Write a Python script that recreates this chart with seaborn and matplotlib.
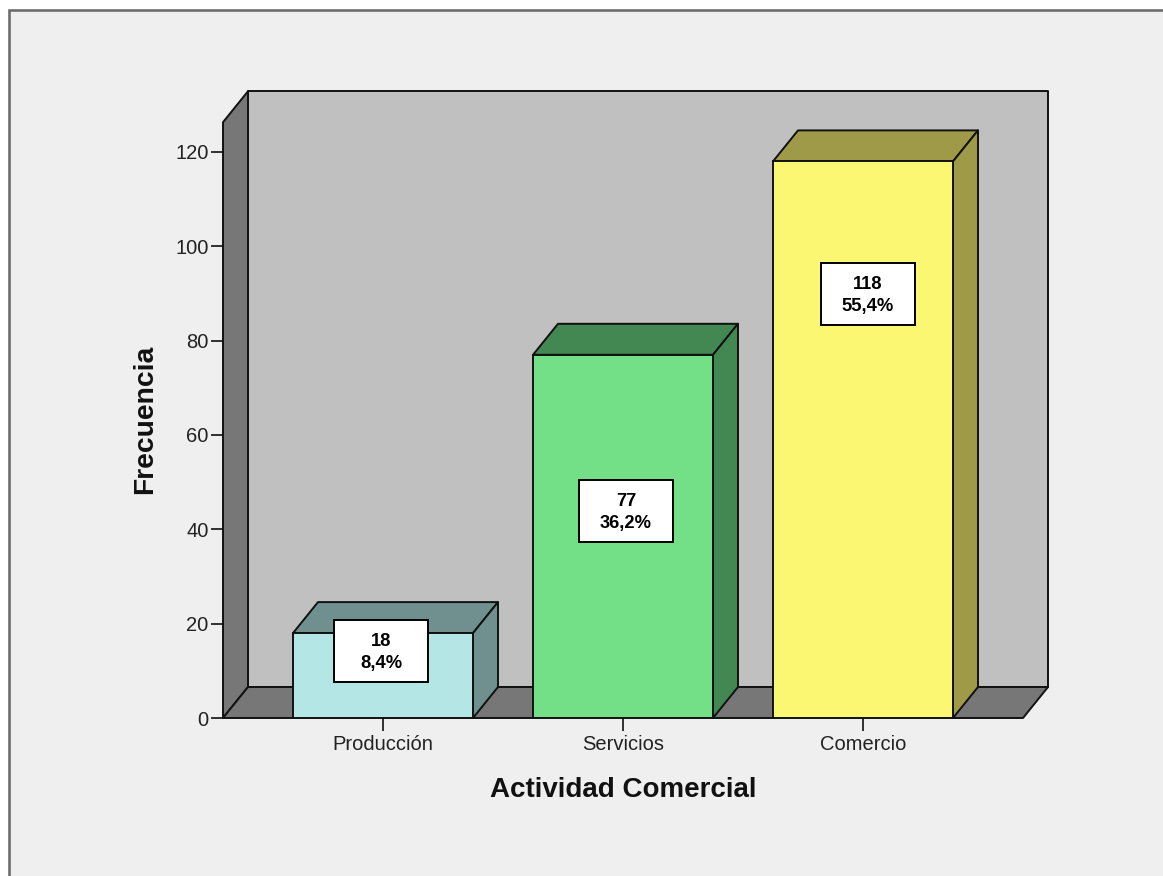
import matplotlib
matplotlib.use("Agg")
import matplotlib.pyplot as plt
from matplotlib.patches import Polygon, Rectangle
import pandas as pd
import seaborn as sns

# Survey frequencies by commercial activity
categories = ["Producción", "Servicios", "Comercio"]
counts = [18, 77, 118]
percents = ["8,4%", "36,2%", "55,4%"]
face_colors = ["#b5e6e6", "#73df87", "#fbf773"]
shade_colors = ["#708f8f", "#438753", "#9e9a47"]
y_ticks = [0, 20, 40, 60, 80, 100, 120]

W, H = 1163, 876
AX_L, AX_R, AX_BOTTOM, PX_PER_UNIT = 223, 1023, 718, 4.717
Y_MAX = 126.3
DEPTH_X_PX, DEPTH_Y_PX = 25, 31
LABEL_Y = [14.2, 43.9, 89.9]
LABEL_X_SHIFT = [-2 / 240, 3 / 240, 5 / 240]

sns.set_theme(style="white", rc={"font.family": ["Liberation Sans", "DejaVu Sans"]})

fig = plt.figure(figsize=(W / 100, H / 100), dpi=100, facecolor="white")
ax_h = Y_MAX * PX_PER_UNIT
ax = fig.add_axes([AX_L / W, 1 - AX_BOTTOM / H, (AX_R - AX_L) / W, ax_h / H])
ax.patch.set_visible(False)

# Chart window: light panel with a grey border running off the right and bottom
panel = Rectangle((8.8 / W, -0.05), 1.1, 1.05 - 10.4 / H, facecolor="#efefef",
                  edgecolor="#6e6e6e", linewidth=1.9, transform=fig.transFigure, zorder=-1)
fig.add_artist(panel)

df = pd.DataFrame({"actividad": categories, "frecuencia": counts})
sns.barplot(data=df, x="actividad", y="frecuencia", hue="actividad",
            palette=face_colors, width=0.75, saturation=1, legend=False,
            edgecolor="#111111", linewidth=1.4, ax=ax, zorder=5)

ax.set_xlim(-2 / 3, 2 + 2 / 3)
ax.set_ylim(0, Y_MAX)

# Depth offsets of the pseudo-3D box, in data units
dx = DEPTH_X_PX / ((AX_R - AX_L) / (ax.get_xlim()[1] - ax.get_xlim()[0]))
dy = DEPTH_Y_PX / PX_PER_UNIT
x0, x1 = ax.get_xlim()
edge = dict(edgecolor="#111111", linewidth=1.4, clip_on=False, joinstyle="round")

# Back wall, side wall and floor
ax.add_patch(Rectangle((x0 + dx, dy), x1 - x0, Y_MAX, facecolor="#c0c0c0", zorder=1, **edge))
ax.add_patch(Polygon([(x0, 0), (x0 + dx, dy), (x0 + dx, Y_MAX + dy), (x0, Y_MAX)],
                     facecolor="#777777", zorder=2, **edge))
ax.add_patch(Polygon([(x0, 0), (x1, 0), (x1 + dx, dy), (x0 + dx, dy)],
                     facecolor="#777777", zorder=2, **edge))

# Top and right side of every bar, built from the drawn bar rectangles
for bar, shade in zip(ax.patches[:len(categories)], shade_colors):
    left, right, top = bar.get_x(), bar.get_x() + bar.get_width(), bar.get_height()
    ax.add_patch(Polygon([(left, top), (right, top), (right + dx, top + dy), (left + dx, top + dy)],
                         facecolor=shade, zorder=4, **edge))
    ax.add_patch(Polygon([(right, 0), (right + dx, dy), (right + dx, top + dy), (right, top)],
                         facecolor=shade, zorder=4, **edge))

# Value boxes
for i, (n, pct) in enumerate(zip(counts, percents)):
    ax.text(i + LABEL_X_SHIFT[i], LABEL_Y[i] - 0.3, f"{n}\n{pct}", ha="center", va="center",
            fontsize=13.2, fontweight="bold", color="black", linespacing=1.38, zorder=8)
    bw, bh = 94 / 240, 62 / PX_PER_UNIT
    ax.add_patch(Rectangle((i + LABEL_X_SHIFT[i] - bw / 2, LABEL_Y[i] - bh / 2), bw, bh,
                           facecolor="white", edgecolor="black", linewidth=1.4, zorder=7))

sns.despine(ax=ax, left=True, bottom=True, top=True, right=True)
ax.set_yticks(y_ticks)
ax.set_xticks(range(len(categories)), categories)
ax.tick_params(axis="both", which="major", left=True, bottom=True, length=9, width=1.3,
               color="#222222", labelcolor="#222222", labelsize=14.5, pad=1.5)
ax.tick_params(axis="x", pad=3)
ax.set_xlabel("Actividad Comercial", fontsize=20, fontweight="bold", color="#111111", labelpad=16.5)
ax.set_ylabel("Frecuencia", fontsize=20.3, fontweight="bold", color="#111111", labelpad=12.5)
ax.xaxis.label.set_x((623 - AX_L) / (AX_R - AX_L))
ax.yaxis.label.set_y((718 - 419) / ax_h)

fig.savefig("out.png", dpi=100, facecolor=fig.get_facecolor())
